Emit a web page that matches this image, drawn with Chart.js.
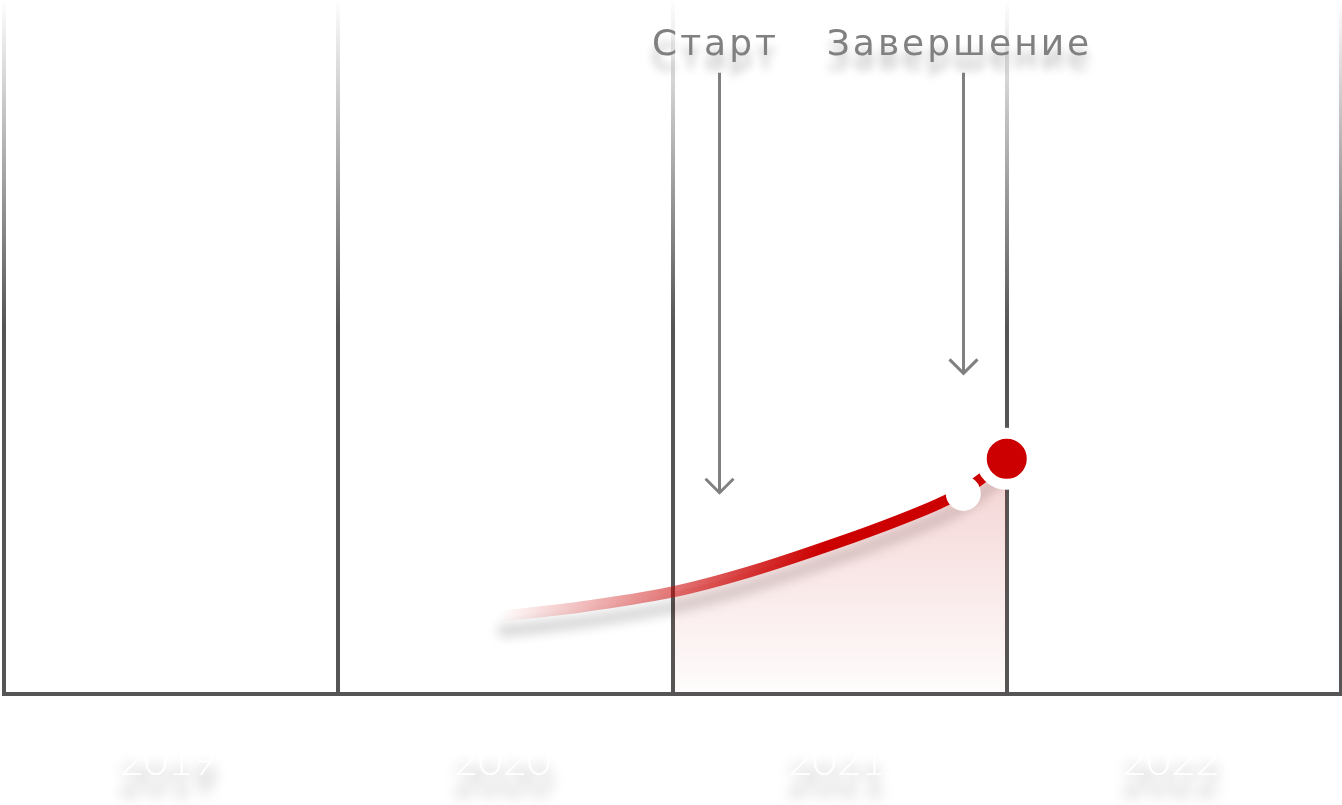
<!DOCTYPE html>
<html>
<head>
<meta charset="utf-8">
<script src="https://cdn.jsdelivr.net/npm/chart.js@4/dist/chart.umd.min.js"></script>
<style>
html,body{margin:0;padding:0;background:#ffffff;overflow:hidden}
#wrap{width:1342px;height:805px;position:relative}
</style>
</head>
<body>
<div id="wrap"><canvas id="c"></canvas></div>
<script>
// ---- data ----
const years = ['2019', '2020', '2021', '2022'];
const curveX = [2020.48, 2020.72, 2021.0, 2021.23, 2021.5, 2021.68, 2021.8, 2021.87, 2021.94, 2022.0];
const curveY = [11.2, 12.5, 14.7, 17.6, 21.9, 25.1, 27.5, 29.2, 31.6, 33.9];
const highlightRange = [2021, 2022];
const startDotX = [2021.87];
const startDotY = [28.9];
const endDotX = [2022.0];
const endDotY = [33.9];
const markerLabels = ['Старт', 'Завершение'];
const markerX = [2021.14, 2021.87];
const markerTipY = [29.0, 46.2];
const markerTopY = 89.5;

const toPts = (xs, ys) => xs.map((x, i) => ({x, y: ys[i]}));
const curveData = toPts(curveX, curveY);

const gradCache = {};
function cached(key, chart, make) {
  const a = chart.chartArea;
  const k = key + '|' + a.left + ',' + a.top + ',' + a.right + ',' + a.bottom;
  if (!gradCache[k]) gradCache[k] = make();
  return gradCache[k];
}
function lineGradient(c) {
  const chart = c.chart;
  const xs = chart.scales.xv;
  if (!chart.chartArea || !xs) return '#cc0000';
  return cached('line', chart, () => {
    const x0 = xs.getPixelForValue(curveX[0]);
    const x1 = xs.getPixelForValue(2021.45);
    const g = chart.ctx.createLinearGradient(x0, 0, x1, 0);
    g.addColorStop(0, 'rgba(204,0,0,0)');
    g.addColorStop(1, 'rgba(204,0,0,1)');
    return g;
  });
}
function fillGradient(chart) {
  return cached('fill', chart, () => {
    const a = chart.chartArea;
    const ys = chart.scales.y;
    const top = ys.getPixelForValue(endDotY[0]);
    const g = chart.ctx.createLinearGradient(0, top, 0, a.bottom);
    g.addColorStop(0, 'rgba(200,30,30,0.2)');
    g.addColorStop(1, 'rgba(200,30,30,0.01)');
    return g;
  });
}
function gridGradient(c) {
  const chart = c.chart;
  if (!chart.chartArea) return '#555';
  return cached('grid', chart, () => {
    const a = chart.chartArea;
    const g = chart.ctx.createLinearGradient(0, a.top, 0, a.bottom);
    g.addColorStop(0, 'rgba(85,85,85,0)');
    g.addColorStop(0.47, 'rgba(85,85,85,1)');
    g.addColorStop(1, 'rgba(85,85,85,1)');
    return g;
  });
}

const shadowPlugin = {
  id: 'lineShadow',
  beforeDatasetDraw(chart, args) {
    const ds = chart.data.datasets[args.index];
    if (ds.shadowOnly) {
      const c = chart.ctx;
      c.save();
      c.translate(0, -4000);
      c.shadowColor = 'rgba(0,0,0,0.18)';
      c.shadowBlur = 12;
      c.shadowOffsetX = 0;
      c.shadowOffsetY = 4000 + 15;
    }
  },
  afterDatasetDraw(chart, args) {
    const ds = chart.data.datasets[args.index];
    if (ds.shadowOnly) chart.ctx.restore();
  }
};

const textPlugin = {
  id: 'texts',
  afterDraw(chart) {
    const c = chart.ctx;
    const xc = chart.scales.x, xs = chart.scales.xv, ys = chart.scales.y;
    const a = chart.chartArea;
    // year labels (white with soft shadow)
    c.save();
    c.font = '300 42px Lato';
    c.fillStyle = '#ffffff';
    c.textAlign = 'center';
    c.textBaseline = 'alphabetic';
    c.shadowColor = 'rgba(0,0,0,0.42)';
    c.shadowBlur = 14;
    c.shadowOffsetY = 20;
    years.forEach((t, i) => c.fillText(t, xc.getPixelForTick(i) - 3, a.bottom + 81));
    c.restore();
    // markers
    markerLabels.forEach((t, i) => {
      const x = Math.round(xs.getPixelForValue(markerX[i])) + 0.5;
      const top = ys.getPixelForValue(markerTopY);
      const tip = ys.getPixelForValue(markerTipY[i]);
      c.save();
      c.strokeStyle = '#808080';
      c.lineWidth = 3;
      c.lineCap = 'butt';
      c.lineJoin = 'miter';
      c.beginPath();
      c.moveTo(x, top);
      c.lineTo(x, tip - 1);
      c.stroke();
      c.beginPath();
      c.moveTo(x - 14, tip - 14);
      c.lineTo(x, tip);
      c.lineTo(x + 14, tip - 14);
      c.stroke();
      c.font = '36px "DejaVu Sans"';
      c.letterSpacing = '3px';
      c.fillStyle = '#808080';
      c.textAlign = 'center';
      c.textBaseline = 'alphabetic';
      c.shadowColor = 'rgba(0,0,0,0.28)';
      c.shadowBlur = 10;
      c.shadowOffsetY = 14;
      c.fillText(t, x - 4, top - 18);
      c.restore();
    });
  }
};

new Chart(document.getElementById('c'), {
  type: 'line',
  data: {
    datasets: [
      {
        label: 'end',
        data: toPts(endDotX, endDotY),
        xAxisID: 'xv', yAxisID: 'y',
        showLine: false,
        pointRadius: 25.5,
        pointBorderWidth: 11,
        pointBackgroundColor: '#cc0000',
        pointBorderColor: '#ffffff',
        clip: false
      },
      {
        label: 'start',
        data: toPts(startDotX, startDotY),
        xAxisID: 'xv', yAxisID: 'y',
        showLine: false,
        pointRadius: 17.5,
        pointBorderWidth: 0,
        pointBackgroundColor: '#ffffff',
        pointBorderColor: '#ffffff',
        clip: false
      },
      {
        label: 'curve',
        data: curveData,
        xAxisID: 'xv', yAxisID: 'y',
        borderWidth: 11,
        borderColor: lineGradient,
        backgroundColor: 'rgba(0,0,0,0)',
        borderCapStyle: 'butt',
        cubicInterpolationMode: 'monotone',
        pointRadius: 0,
        fill: 'origin',
        segment: {
          backgroundColor: (s) => {
            const x0 = curveData[s.p0DataIndex].x, x1 = curveData[s.p1DataIndex].x;
            return (x0 >= highlightRange[0] && x1 <= highlightRange[1]) ? fillGradient(s.chart) : 'rgba(0,0,0,0)';
          }
        }
      },
      {
        label: 'shadow',
        shadowOnly: true,
        data: curveData,
        xAxisID: 'xv', yAxisID: 'y',
        borderWidth: 11,
        borderColor: '#000000',
        cubicInterpolationMode: 'monotone',
        pointRadius: 0,
        fill: false,
        clip: false
      }
    ]
  },
  options: {
    responsive: true,
    maintainAspectRatio: false,
    animation: false,
    events: [],
    layout: {autoPadding: false, padding: {left: 4, right: 1, top: 0, bottom: 111}},
    plugins: {legend: {display: false}, tooltip: {enabled: false}},
    scales: {
      x: {
        type: 'category',
        labels: years,
        offset: true,
        grid: {offset: true, color: gridGradient, lineWidth: 4, drawTicks: false},
        border: {display: true, color: '#555555', width: 4},
        ticks: {display: false}
      },
      xv: {type: 'linear', axis: 'x', position: 'bottom', min: 2019, max: 2023, display: false},
      y: {type: 'linear', min: 0, max: 100, display: false}
    }
  },
  plugins: [shadowPlugin, textPlugin]
});
</script>
</body>
</html>
